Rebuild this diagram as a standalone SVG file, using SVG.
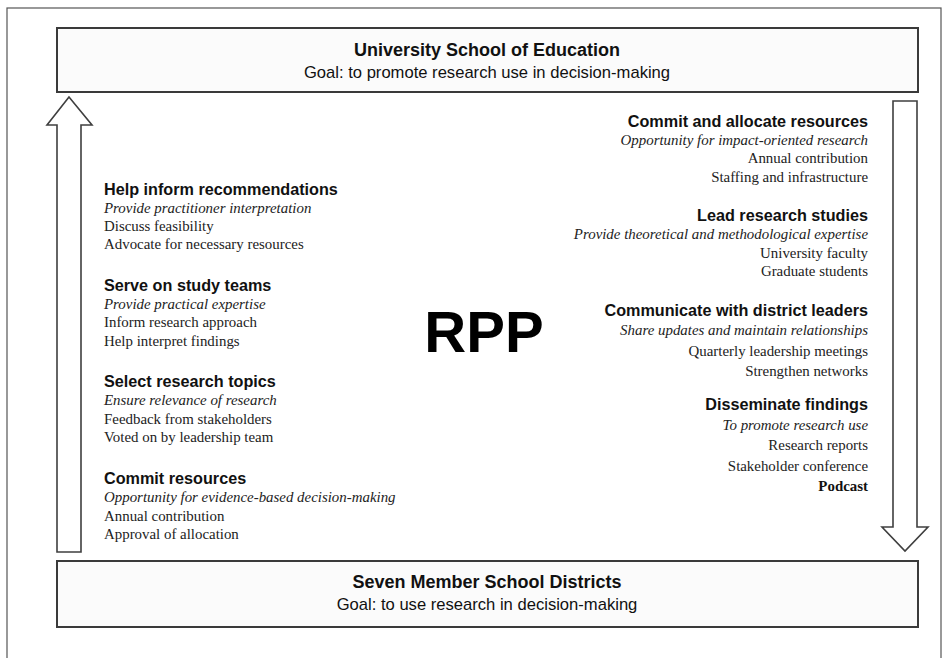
<svg xmlns="http://www.w3.org/2000/svg" width="948" height="658" viewBox="0 0 948 658">
<style>
.box{fill:#fbfbfb;stroke:#3a3a3a;stroke-width:2}
.arrow{fill:#ffffff;stroke:#3f3f3f;stroke-width:1.6;stroke-linejoin:miter}
.title{font-family:"Liberation Sans",Arial,sans-serif;font-weight:bold;font-size:18px;fill:#111;text-anchor:middle}
.sub{font-family:"Liberation Sans",Arial,sans-serif;font-size:16.6px;fill:#111;text-anchor:middle}
.h{font-family:"Liberation Sans",Arial,sans-serif;font-weight:bold;font-size:16.2px;fill:#111}
.i{font-family:"Liberation Serif","Times New Roman",serif;font-style:italic;font-size:14.9px;fill:#222}
.t{font-family:"Liberation Serif","Times New Roman",serif;font-size:14.9px;fill:#222}
.b{font-family:"Liberation Serif","Times New Roman",serif;font-weight:bold;font-size:14.9px;fill:#111}
.r text{text-anchor:end}
.rpp{font-family:"Liberation Sans",Arial,sans-serif;font-weight:bold;font-size:58px;fill:#000;text-anchor:middle}
</style>
<rect x="0" y="0" width="948" height="658" fill="#ffffff"/>
<rect x="7" y="8" width="934" height="662" fill="none" stroke="#555" stroke-width="1.2"/>

<g id="connectors">
  <polygon class="arrow" points="69,97 47,125 57,125 57,552 81,552 81,125 92,125"/>
  <polygon class="arrow" points="893,101 917,101 917,527 928,527 905,551 882,527 893,527"/>
</g>

<g id="university">
  <rect class="box" x="57" y="28" width="861" height="64"/>
  <text class="title" x="487" y="56">University School of Education</text>
  <text class="sub" x="487" y="78">Goal: to promote research use in decision-making</text>
</g>

<g id="districts">
  <rect class="box" x="57" y="561" width="861" height="66"/>
  <text class="title" x="487" y="588">Seven Member School Districts</text>
  <text class="sub" x="487" y="610">Goal: to use research in decision-making</text>
</g>

<g id="rpp">
  <text class="rpp" x="484" y="352">RPP</text>
</g>

<g id="help-inform">
  <text class="h" x="104" y="195">Help inform recommendations</text>
  <text class="i" x="104" y="213">Provide practitioner interpretation</text>
  <text class="t" x="104" y="231">Discuss feasibility</text>
  <text class="t" x="104" y="249">Advocate for necessary resources</text>
</g>
<g id="serve-study">
  <text class="h" x="104" y="291">Serve on study teams</text>
  <text class="i" x="104" y="309">Provide practical expertise</text>
  <text class="t" x="104" y="327">Inform research approach</text>
  <text class="t" x="104" y="346">Help interpret findings</text>
</g>
<g id="select-topics">
  <text class="h" x="104" y="387">Select research topics</text>
  <text class="i" x="104" y="405">Ensure relevance of research</text>
  <text class="t" x="104" y="424">Feedback from stakeholders</text>
  <text class="t" x="104" y="442">Voted on by leadership team</text>
</g>
<g id="commit-resources">
  <text class="h" x="104" y="484">Commit resources</text>
  <text class="i" x="104" y="502">Opportunity for evidence-based decision-making</text>
  <text class="t" x="104" y="521">Annual contribution</text>
  <text class="t" x="104" y="539">Approval of allocation</text>
</g>

<g id="commit-allocate" class="r">
  <text class="h" x="868" y="127">Commit and allocate resources</text>
  <text class="i" x="868" y="145">Opportunity for impact-oriented research</text>
  <text class="t" x="868" y="163">Annual contribution</text>
  <text class="t" x="868" y="182">Staffing and infrastructure</text>
</g>
<g id="lead-research" class="r">
  <text class="h" x="868" y="221">Lead research studies</text>
  <text class="i" x="868" y="239">Provide theoretical and methodological expertise</text>
  <text class="t" x="868" y="258">University faculty</text>
  <text class="t" x="868" y="276">Graduate students</text>
</g>
<g id="communicate" class="r">
  <text class="h" x="868" y="316">Communicate with district leaders</text>
  <text class="i" x="868" y="335">Share updates and maintain relationships</text>
  <text class="t" x="868" y="356">Quarterly leadership meetings</text>
  <text class="t" x="868" y="376">Strengthen networks</text>
</g>
<g id="disseminate" class="r">
  <text class="h" x="868" y="410">Disseminate findings</text>
  <text class="i" x="868" y="430">To promote research use</text>
  <text class="t" x="868" y="450">Research reports</text>
  <text class="t" x="868" y="471">Stakeholder conference</text>
  <text class="b" x="868" y="491">Podcast</text>
</g>
</svg>
